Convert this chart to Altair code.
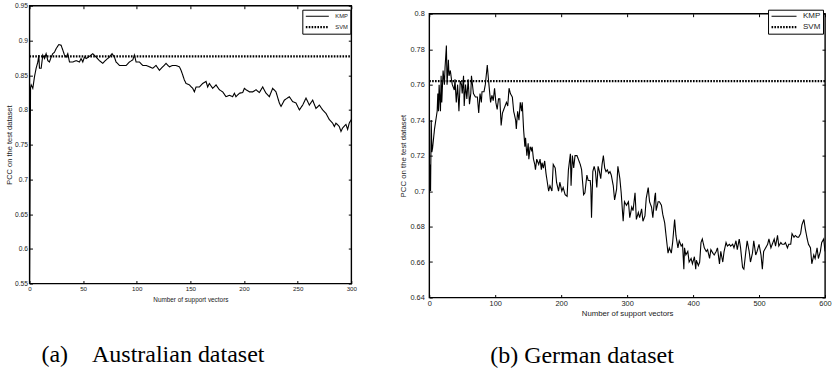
import altair as alt
import pandas as pd

# ---------------- Australian dataset (panel a) ----------------
au_x = [0, 1, 1.6, 3.1, 4.7, 6.2, 7.8, 8.7, 9.3, 10.9, 12.4, 14, 15.5, 17.1, 18.6, 20.2,
        21.7, 23.3, 24.8, 27.3, 29.5, 31.1, 32.6, 34.2, 35.7, 37.3, 40.4, 43.5, 46.6, 48.1,
        49.7, 51.2, 52.8, 55.9, 59, 62.1, 65.2, 68.3, 71.4, 74.5, 77, 79.2, 80.7, 83.9, 87,
        90.1, 93.2, 96.3, 97.8, 99.4, 102.5, 105.6, 108.7, 111.8, 114.9, 118, 121.1, 124.2,
        127.3, 130.4, 133.5, 136.6, 139.8, 141.3, 142.9, 144.4, 146, 149.1, 152.2, 153.7,
        155.3, 158.4, 161.5, 164.6, 166.1, 167.7, 170.8, 173.9, 177, 180.1, 183.2, 186.3,
        189.4, 191, 192.5, 195.7, 198.8, 200.3, 201.9, 205, 208.1, 211.2, 214.3, 217.4,
        220.5, 223.6, 226.7, 229.8, 232.9, 234.5, 237.6, 242.2, 245.3, 248.4, 251.6, 254.7,
        257.8, 260.9, 264, 267.1, 270.2, 273.3, 276.4, 279.5, 282.6, 284.2, 285.7, 288.8,
        290.4, 291.9, 295, 296.6, 298.1, 300]
au_kmp = [0.55, 0.832, 0.836, 0.831, 0.848, 0.860, 0.869, 0.879, 0.860, 0.860, 0.879, 0.874,
          0.881, 0.871, 0.869, 0.876, 0.881, 0.883, 0.888, 0.894, 0.893, 0.886, 0.879, 0.876,
          0.881, 0.869, 0.869, 0.871, 0.869, 0.874, 0.869, 0.876, 0.874, 0.877, 0.881, 0.876,
          0.871, 0.867, 0.872, 0.876, 0.881, 0.876, 0.869, 0.864, 0.864, 0.864, 0.869, 0.872,
          0.879, 0.869, 0.869, 0.864, 0.864, 0.862, 0.860, 0.864, 0.857, 0.862, 0.867, 0.862,
          0.864, 0.864, 0.862, 0.857, 0.850, 0.843, 0.838, 0.836, 0.831, 0.826, 0.833, 0.833,
          0.838, 0.841, 0.833, 0.838, 0.831, 0.836, 0.829, 0.826, 0.819, 0.821, 0.819, 0.824,
          0.819, 0.824, 0.825, 0.831, 0.829, 0.826, 0.826, 0.829, 0.825, 0.833, 0.824, 0.819,
          0.831, 0.826, 0.810, 0.805, 0.814, 0.819, 0.812, 0.810, 0.800, 0.807, 0.817, 0.807,
          0.814, 0.802, 0.807, 0.800, 0.795, 0.786, 0.781, 0.776, 0.781, 0.776, 0.769, 0.774,
          0.779, 0.772, 0.781, 0.786]
au_svm = 0.877
au_xticks = [0, 50, 100, 150, 200, 250, 300]
au_yticks = [0.55, 0.6, 0.65, 0.7, 0.75, 0.8, 0.85, 0.9, 0.95]

# ---------------- German dataset (panel b) ----------------
de_x = [0, 1, 2, 3, 4, 5, 8, 10, 12, 13, 14, 15, 17, 18, 19, 21, 23, 24, 26, 27, 29, 30, 32,
        34, 35, 38, 39, 41, 43, 45, 47, 49, 50, 52, 53, 55, 57, 59, 61, 63, 64, 67, 70, 73,
        75, 77, 79, 80, 83, 85, 88, 90, 93, 95, 97, 99, 101, 103, 105, 107, 109, 111, 113,
        115, 117, 119, 121, 123, 126, 128, 131, 132, 134, 136, 138, 140, 141, 143, 145, 146,
        148, 150, 151, 153, 155, 156, 158, 160, 161, 163, 166, 168, 170, 171, 173, 175, 177,
        179, 181, 183, 186, 188, 191, 193, 196, 198, 201, 203, 206, 209, 211, 214, 215, 217,
        219, 221, 224, 226, 229, 231, 234, 236, 239, 241, 244, 245, 246, 248, 250, 252, 254,
        256, 258, 260, 262, 264, 266, 268, 270, 272, 274, 276, 279, 281, 284, 286, 289, 291,
        294, 296, 299, 302, 304, 307, 309, 312, 314, 317, 319, 322, 324, 327, 329, 332, 334,
        337, 339, 342, 343, 344, 347, 349, 352, 354, 357, 359, 362, 364, 367, 369, 372, 374,
        377, 379, 382, 384, 386, 387, 389, 392, 394, 397, 399, 402, 404, 405, 408, 410, 412,
        414, 417, 420, 422, 425, 427, 430, 432, 435, 437, 440, 442, 445, 447, 450, 452, 455,
        457, 460, 462, 465, 467, 470, 472, 475, 477, 480, 482, 485, 487, 490, 492, 495, 497,
        500, 503, 505, 507, 510, 513, 515, 518, 520, 523, 525, 528, 530, 533, 535, 538, 540,
        543, 545, 548, 550, 553, 555, 558, 560, 563, 565, 568, 570, 573, 575, 578, 580, 583,
        585, 588, 590, 593, 595, 598, 600]
de_kmp = [0.705, 0.715, 0.700, 0.740, 0.722, 0.724, 0.735, 0.740, 0.745, 0.755, 0.745, 0.760,
          0.745, 0.765, 0.750, 0.768, 0.760, 0.770, 0.782, 0.760, 0.774, 0.765, 0.768, 0.762,
          0.760, 0.757, 0.763, 0.750, 0.760, 0.745, 0.762, 0.760, 0.755, 0.765, 0.748, 0.760,
          0.752, 0.763, 0.749, 0.755, 0.765, 0.755, 0.753, 0.753, 0.744, 0.755, 0.750, 0.756,
          0.756, 0.760, 0.771, 0.762, 0.750, 0.754, 0.751, 0.758, 0.750, 0.746, 0.752, 0.752,
          0.737, 0.744, 0.746, 0.748, 0.750, 0.748, 0.758, 0.755, 0.753, 0.745, 0.740, 0.735,
          0.745, 0.740, 0.750, 0.745, 0.750, 0.735, 0.725, 0.730, 0.720, 0.727, 0.718, 0.725,
          0.723, 0.725, 0.718, 0.715, 0.712, 0.718, 0.715, 0.718, 0.712, 0.716, 0.713, 0.717,
          0.710, 0.705, 0.700, 0.703, 0.700, 0.715, 0.713, 0.705, 0.700, 0.705, 0.700, 0.702,
          0.698, 0.697, 0.712, 0.721, 0.703, 0.720, 0.713, 0.720, 0.720, 0.718, 0.715, 0.712,
          0.698, 0.699, 0.709, 0.706, 0.706, 0.702, 0.685, 0.711, 0.714, 0.711, 0.702, 0.714,
          0.711, 0.707, 0.715, 0.720, 0.713, 0.711, 0.712, 0.710, 0.711, 0.709, 0.703, 0.695,
          0.701, 0.714, 0.707, 0.699, 0.683, 0.694, 0.692, 0.694, 0.685, 0.691, 0.689, 0.699,
          0.684, 0.688, 0.685, 0.690, 0.683, 0.686, 0.696, 0.702, 0.694, 0.691, 0.685, 0.697,
          0.699, 0.689, 0.694, 0.694, 0.692, 0.687, 0.682, 0.675, 0.665, 0.668, 0.665, 0.671,
          0.684, 0.675, 0.668, 0.672, 0.669, 0.670, 0.656, 0.668, 0.664, 0.666, 0.660, 0.662,
          0.659, 0.663, 0.656, 0.661, 0.658, 0.660, 0.671, 0.673, 0.668, 0.666, 0.667, 0.662,
          0.667, 0.665, 0.664, 0.666, 0.668, 0.659, 0.666, 0.660, 0.666, 0.671, 0.669, 0.670,
          0.669, 0.670, 0.668, 0.672, 0.667, 0.673, 0.668, 0.657, 0.656, 0.666, 0.672, 0.666,
          0.660, 0.665, 0.672, 0.664, 0.666, 0.670, 0.664, 0.656, 0.666, 0.668, 0.670, 0.673,
          0.668, 0.670, 0.673, 0.669, 0.675, 0.669, 0.671, 0.670, 0.670, 0.671, 0.668, 0.670,
          0.670, 0.676, 0.674, 0.675, 0.674, 0.674, 0.676, 0.681, 0.684, 0.679, 0.673, 0.670,
          0.668, 0.659, 0.664, 0.662, 0.668, 0.662, 0.666, 0.671, 0.673, 0.666]
de_svm = 0.762
de_xticks = [0, 100, 200, 300, 400, 500, 600]
de_yticks = [0.64, 0.66, 0.68, 0.7, 0.72, 0.74, 0.76, 0.78, 0.8]

series_names = ["KMP", "SVM"]
captions = ["(a)\u00a0\u00a0\u00a0\u00a0Australian dataset", "(b) German dataset"]
x_title = "Number of support vectors"
y_title = "PCC on the test dataset"

SANS = "Liberation Sans"
TXT = "#1a1a1a"


def tick_axis(orient, values, offset):
    return alt.Axis(orient=orient, values=values, offset=offset, labels=False, domain=False,
                    grid=False, title=None, ticks=True, tickSize=3, tickColor="black",
                    tickWidth=1)


def panel(xs, ys, svm, xmax, ydom, xticks, yticks, w, h, caption, cap_dx, cap_offset,
          legend_x, legend_y, sym_size, leg_fs, xlab_fs, ylab_fs, xtitle_fs, ytitle_fs,
          ylab_pad, ytitle_pad, xlab_pad, xtitle_pad):
    kmp = pd.DataFrame({"x": xs, "y": ys, "series": series_names[0]})
    svmdf = pd.DataFrame({"x": [0, xmax], "y": [svm, svm], "series": series_names[1]})
    xsc = alt.Scale(domain=[0, xmax], nice=False, zero=False)
    ysc = alt.Scale(domain=ydom, nice=False, zero=False)

    legend = alt.Legend(orient="none", legendX=legend_x, legendY=legend_y, title=None,
                        strokeColor="black", fillColor="white", padding=2, cornerRadius=0,
                        symbolType="stroke", symbolSize=sym_size, symbolStrokeColor="black",
                        labelFont=SANS, labelFontSize=leg_fs, labelColor=TXT, labelOffset=5,
                        rowPadding=2, clipHeight=9)
    dash = alt.StrokeDash("series:N", legend=legend,
                          scale=alt.Scale(domain=series_names, range=[[1, 0], [1.6, 1.3]]))
    swidth = alt.StrokeWidth("series:O", legend=legend,
                             scale=alt.Scale(domain=series_names, range=[1.1, 2.2]))

    main = alt.Chart(kmp).mark_line(color="black", clip=True).encode(
        x=alt.X("x:Q", scale=xsc, axis=alt.Axis(
            orient="bottom", values=xticks, format="d", ticks=False, tickSize=0, domain=False,
            grid=False, labelFlush=False, labelFont=SANS, labelFontSize=xlab_fs,
            labelColor=TXT, title=x_title, titleFont=SANS, titleFontSize=xtitle_fs,
            titleFontWeight="normal", titleColor=TXT,
            labelPadding=xlab_pad, titlePadding=xtitle_pad)),
        y=alt.Y("y:Q", scale=ysc, axis=alt.Axis(
            orient="left", values=yticks, format=".2~f", ticks=False, tickSize=0,
            domain=False, grid=False, labelFlush=False, labelFont=SANS,
            labelFontSize=ylab_fs, labelColor=TXT, title=y_title, titleFont=SANS,
            titleFontSize=ytitle_fs, titleFontWeight="normal", titleColor=TXT,
            labelPadding=ylab_pad, titlePadding=ytitle_pad)),
        strokeDash=dash, strokeWidth=swidth,
    )
    svm_line = alt.Chart(svmdf).mark_line(color="black").encode(
        x=alt.X("x:Q", scale=xsc, axis=tick_axis("top", xticks, -h)),
        y=alt.Y("y:Q", scale=ysc, axis=tick_axis("right", yticks, -w)),
        strokeDash=dash, strokeWidth=swidth,
    )
    ghost = alt.Chart(svmdf).mark_point(opacity=0, size=0).encode(
        x=alt.X("x:Q", scale=xsc, axis=tick_axis("bottom", xticks, -h)),
        y=alt.Y("y:Q", scale=ysc, axis=tick_axis("left", yticks, -w)),
    )
    return alt.layer(main, svm_line, ghost).properties(
        width=w, height=h,
        title=alt.TitleParams(caption, orient="bottom", anchor="start", frame="group",
                              dx=cap_dx, offset=cap_offset, font="Liberation Serif",
                              fontSize=24, fontWeight="normal", color="black"),
    )


left = panel(au_x, au_kmp, au_svm, 300, [0.55, 0.95], au_xticks, au_yticks, 322, 278,
             captions[0], 12, 40, 273, 4, 529, 5.8, 6.2, 6.7, 6.4, 7.5,
             2, 1, 2, 5)
right = panel(de_x, de_kmp, de_svm, 600, [0.64, 0.8], de_xticks, de_yticks, 396, 284,
              captions[1], 61, 27, 339, 4, 625, 8, 7.4, 7.4, 7.8, 7.8,
              5, 2.8, 2.3, 2.3)

spacer = alt.Chart(pd.DataFrame({"a": [0]})).mark_point(opacity=0, size=0).encode(
    x=alt.value(0), y=alt.value(0)
).properties(width=10, height=3, view=alt.ViewBackground(stroke=None))

right_col = alt.vconcat(spacer, right, spacing=0)

chart = alt.hconcat(left, right_col, spacing=41).resolve_scale(
    strokeDash="independent", strokeWidth="independent"
).resolve_legend(
    strokeDash="independent", strokeWidth="independent"
).properties(
    padding={"left": 4.5, "top": 1.6, "right": 0, "bottom": 0},
    background="white",
).configure_view(stroke="black", strokeWidth=1.4)

chart.save("out.html", embed_options={"renderer": "svg", "actions": False})
